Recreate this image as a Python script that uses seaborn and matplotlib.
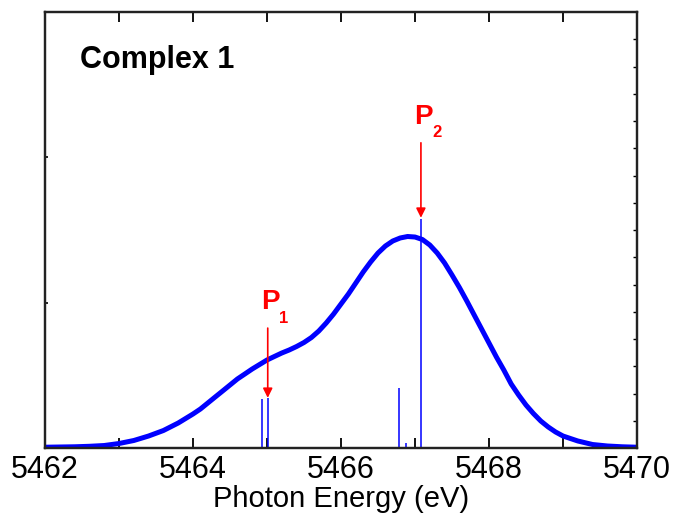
import numpy as np
import pandas as pd
import matplotlib
matplotlib.use("Agg")
import matplotlib.pyplot as plt
import seaborn as sns

# Curva ensanchada, intensidad normalizada
energia = [5462.0, 5462.2, 5462.4, 5462.6, 5462.8, 5463.0, 5463.2, 5463.4, 5463.6, 5463.8,
           5464.0, 5464.1, 5464.2, 5464.3, 5464.4, 5464.5, 5464.6, 5464.7, 5464.8, 5464.9,
           5465.0, 5465.1, 5465.2, 5465.3, 5465.4, 5465.5, 5465.6, 5465.7, 5465.8, 5465.9,
           5466.0, 5466.1, 5466.2, 5466.3, 5466.4, 5466.5, 5466.6, 5466.7, 5466.8, 5466.9,
           5467.0, 5467.1, 5467.2, 5467.3, 5467.4, 5467.5, 5467.6, 5467.7, 5467.8, 5467.9,
           5468.0, 5468.1, 5468.2, 5468.3, 5468.4, 5468.5, 5468.6, 5468.7, 5468.8, 5468.9,
           5469.0, 5469.2, 5469.4, 5469.6, 5469.8, 5470.0]
intensidad = [0.0018, 0.0023, 0.0028, 0.0039, 0.0057, 0.0103, 0.0172, 0.0275, 0.0401, 0.0573,
              0.0780, 0.0894, 0.1032, 0.1170, 0.1307, 0.1445, 0.1583, 0.1697, 0.1812, 0.1915,
              0.2018, 0.2099, 0.2179, 0.2248, 0.2328, 0.2420, 0.2534, 0.2683, 0.2867, 0.3073,
              0.3303, 0.3532, 0.3784, 0.4037, 0.4266, 0.4472, 0.4633, 0.4748, 0.4817, 0.4851,
              0.4839, 0.4782, 0.4656, 0.4472, 0.4243, 0.3968, 0.3681, 0.3372, 0.3050, 0.2729,
              0.2408, 0.2087, 0.1789, 0.1468, 0.1216, 0.0986, 0.0791, 0.0619, 0.0482, 0.0367,
              0.0275, 0.0161, 0.0080, 0.0046, 0.0028, 0.0018]

# Transiciones (barras)
e_trans = [5464.93, 5465.01, 5466.78, 5466.88, 5467.08]
f_trans = [0.112, 0.115, 0.138, 0.011, 0.525]

# Etiquetas de picos
picos = ["1", "2"]
pico_x = [5465.01, 5467.08]
pico_cola = [0.275, 0.700]
pico_punta = [0.115, 0.528]

df = pd.DataFrame({"E": energia, "I": intensidad})

sns.set_style("ticks")
plt.rcParams["font.family"] = ["Liberation Sans", "DejaVu Sans"]
plt.rcParams.update({"text.color": "black", "axes.labelcolor": "black",
                     "xtick.color": "black", "ytick.color": "black"})

fig = plt.figure(figsize=(6.75, 5.23), dpi=100)
ax = fig.add_axes([45 / 675, 1 - 448 / 523, 592 / 675, 436 / 523])

sns.lineplot(data=df, x="E", y="I", ax=ax, color="#0000ff", linewidth=3.6,
             estimator=None, sort=False)
ax.lines[0].set_solid_joinstyle("round")
ax.vlines(e_trans, 0, f_trans, color="#0000ff", linewidth=1.1)

for nombre, x, y0, y1 in zip(picos, pico_x, pico_cola, pico_punta):
    ax.annotate("", xy=(x, y1), xytext=(x, y0),
                arrowprops=dict(arrowstyle="-|>", color="red", lw=1.2,
                                mutation_scale=14, shrinkA=0, shrinkB=0))
    ax.text(x + 0.03, y0 + 0.06, "P", color="red", fontsize=20,
            fontweight="bold", ha="center", va="center")
    ax.text(x + 0.22, y0 + 0.023, nombre, color="red", fontsize=12,
            fontweight="bold", ha="center", va="center")

ax.text(0.059, 0.89, "Complex 1", transform=ax.transAxes, fontsize=22,
        fontweight="bold", ha="left", va="center")

ax.set_xlim(5462, 5470)
ax.set_ylim(0, 1)
ax.set_xticks([5462, 5464, 5466, 5468, 5470])
ax.set_xticks([5463, 5465, 5467, 5469], minor=True)
ax.set_yticks([1 / 3, 2 / 3])
ax.set_yticklabels([])
ax.tick_params(axis="x", which="both", direction="in", top=True, length=7,
               width=1.3, labelsize=22, pad=5)
ax.tick_params(axis="y", direction="in", length=2, width=1.2)
ax.set_xlabel("Photon Energy (eV)", fontsize=21, labelpad=0)
ax.set_ylabel("")

ax2 = ax.twinx()
ax2.set_ylim(0, 1)
ax2.set_yticks(np.arange(1, 16) / 16)
ax2.set_yticklabels([])
ax2.tick_params(axis="y", direction="in", length=3, width=1.0)

for a in (ax, ax2):
    for s in a.spines.values():
        s.set_visible(True)
        s.set_linewidth(1.6)
        s.set_color("#222222")

fig.savefig("out.png", dpi=100)
